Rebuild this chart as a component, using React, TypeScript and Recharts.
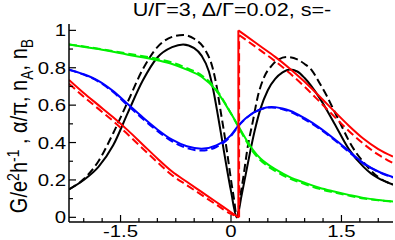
import { LineChart, Line, XAxis, YAxis } from "recharts";

// x positions (in units of Γ) and values
const blackSolidX = [-2.2, -2.0, -1.8, -1.6, -1.4, -1.2, -1.0, -0.8, -0.65, -0.5, -0.4, -0.3, -0.24, -0.18, -0.12, -0.06, 0.0, 0.08, 0.14, 0.2, 0.26, 0.32, 0.4, 0.5, 0.6, 0.7, 0.8, 0.9, 1.0, 1.2, 1.4, 1.6, 1.8, 1.9, 2.0, 2.2];
const blackSolidY = [0.15, 0.2, 0.27, 0.385, 0.56, 0.73, 0.855, 0.91, 0.925, 0.905, 0.865, 0.78, 0.68, 0.55, 0.41, 0.27, 0.14, 0.0, 0.11, 0.23, 0.35, 0.46, 0.58, 0.68, 0.74, 0.775, 0.79, 0.78, 0.745, 0.64, 0.505, 0.365, 0.27, 0.235, 0.21, 0.175];

const blackDashX = [-2.2, -2.0, -1.8, -1.6, -1.4, -1.2, -1.0, -0.8, -0.65, -0.5, -0.35, -0.25, -0.19, -0.15, -0.1, -0.05, 0.0, 0.04, 0.08, 0.12, 0.17, 0.22, 0.3, 0.36, 0.45, 0.55, 0.65, 0.76, 0.9, 1.0, 1.1, 1.2, 1.3, 1.4, 1.5, 1.6, 1.7, 1.8, 1.9, 2.0, 2.2];
const blackDashY = [0.15, 0.205, 0.3, 0.45, 0.62, 0.79, 0.91, 0.965, 0.975, 0.955, 0.895, 0.8, 0.69, 0.59, 0.47, 0.34, 0.2, 0.1, 0.0, 0.1, 0.22, 0.36, 0.52, 0.64, 0.75, 0.81, 0.845, 0.857, 0.845, 0.82, 0.785, 0.72, 0.65, 0.57, 0.49, 0.41, 0.345, 0.295, 0.25, 0.215, 0.175];

const greenX = [-2.2, -1.8, -1.4, -1.0, -0.8, -0.6, -0.4, -0.2, 0.0, 0.1, 0.2, 0.3, 0.4, 0.5, 0.6, 0.8, 1.0, 1.2, 1.4, 1.6, 1.8, 2.0, 2.2];
const greenSolidY = [0.925, 0.9, 0.87, 0.84, 0.82, 0.79, 0.752, 0.678, 0.555, 0.488, 0.42, 0.36, 0.315, 0.283, 0.258, 0.215, 0.185, 0.158, 0.138, 0.12, 0.104, 0.093, 0.085];
const greenDashY = [0.925, 0.902, 0.875, 0.847, 0.828, 0.798, 0.76, 0.684, 0.555, 0.484, 0.412, 0.35, 0.305, 0.273, 0.248, 0.207, 0.178, 0.152, 0.133, 0.116, 0.101, 0.091, 0.084];

const blueX = [-2.2, -2.0, -1.8, -1.6, -1.4, -1.2, -1.0, -0.8, -0.6, -0.4, -0.2, 0.0, 0.1, 0.2, 0.4, 0.55, 0.7, 0.8, 1.0, 1.2, 1.4, 1.6, 1.8, 2.0, 2.2];
const blueSolidY = [0.79, 0.765, 0.73, 0.675, 0.605, 0.535, 0.47, 0.415, 0.38, 0.367, 0.385, 0.44, 0.49, 0.53, 0.578, 0.59, 0.582, 0.57, 0.53, 0.48, 0.42, 0.355, 0.29, 0.245, 0.215];
const blueDashY = [0.79, 0.763, 0.726, 0.67, 0.598, 0.527, 0.462, 0.406, 0.37, 0.357, 0.376, 0.435, 0.488, 0.528, 0.577, 0.588, 0.578, 0.565, 0.524, 0.474, 0.415, 0.35, 0.287, 0.243, 0.213];

// red has a jump at x≈0.1, so it is split in left branch / jump / right branch
const redLeftX = [-2.2, -2.0, -1.8, -1.6, -1.4, -1.2, -1.0, -0.8, -0.6, -0.4, -0.2, 0.0, 0.1];
const redLeftSolidY = [0.735, 0.665, 0.6, 0.535, 0.465, 0.39, 0.315, 0.245, 0.19, 0.136, 0.082, 0.027, 0.0];
const redLeftDashX = [-2.2, -2.0, -1.8, -1.6, -1.4, -1.2, -1.0, -0.8, -0.6, -0.4, -0.2, 0.0, 0.11];
const redLeftDashY = [0.715, 0.645, 0.58, 0.515, 0.443, 0.368, 0.295, 0.225, 0.172, 0.12, 0.068, 0.018, 0.0];

const redJumpSolidX = [0.1, 0.1];
const redJumpSolidY = [0.0, 1.0];
const redJumpDashX = [0.11, 0.11];
const redJumpDashY = [0.0, 0.975];

const redRightSolidX = [0.1, 0.2, 0.4, 0.6, 0.8, 1.0, 1.2, 1.4, 1.6, 1.8, 2.0, 2.2];
const redRightSolidY = [1.0, 0.972, 0.915, 0.858, 0.795, 0.725, 0.648, 0.568, 0.49, 0.42, 0.365, 0.325];
const redRightDashX = [0.11, 0.2, 0.4, 0.6, 0.8, 1.0, 1.2, 1.4, 1.6, 1.8, 2.0, 2.2];
const redRightDashY = [0.975, 0.95, 0.893, 0.835, 0.77, 0.698, 0.62, 0.54, 0.462, 0.393, 0.335, 0.29];

const X_TICKS = [-2.0, -1.75, -1.5, -1.25, -1.0, -0.75, -0.5, -0.25, 0, 0.25, 0.5, 0.75, 1.0, 1.25, 1.5, 1.75, 2.0];
const X_LABELS = [-1.5, 0, 1.5];
const Y_TICKS = [0, 0.1, 0.2, 0.3, 0.4, 0.5, 0.6, 0.7, 0.8, 0.9, 1.0];
const Y_LABELS = [0, 0.2, 0.4, 0.6, 0.8, 1.0];

const FONT = "'Liberation Sans', Arial, Helvetica, sans-serif";
const FS = 17;
const STRETCH = 1.2; // the original lettering is wider than it is tall

const zip = (xs: number[], ys: number[]) => xs.map((x, i) => ({ x, y: ys[i] }));

const series = [
  { id: "bs", data: zip(blackSolidX, blackSolidY), color: "#000000", dash: false },
  { id: "bd", data: zip(blackDashX, blackDashY), color: "#000000", dash: true },
  { id: "gs", data: zip(greenX, greenSolidY), color: "#00f000", dash: false },
  { id: "gd", data: zip(greenX, greenDashY), color: "#00f000", dash: true },
  { id: "us", data: zip(blueX, blueSolidY), color: "#0000ff", dash: false },
  { id: "ud", data: zip(blueX, blueDashY), color: "#0000ff", dash: true },
  { id: "rls", data: zip(redLeftX, redLeftSolidY), color: "#ff0000", dash: false },
  { id: "rld", data: zip(redLeftDashX, redLeftDashY), color: "#ff0000", dash: true },
  { id: "rjs", data: zip(redJumpSolidX, redJumpSolidY), color: "#ff0000", dash: false, linear: true },
  { id: "rjd", data: zip(redJumpDashX, redJumpDashY), color: "#ff0000", dash: true, linear: true },
  { id: "rrs", data: zip(redRightSolidX, redRightSolidY), color: "#ff0000", dash: false },
  { id: "rrd", data: zip(redRightDashX, redRightDashY), color: "#ff0000", dash: true },
];

const fmt = (v: number) => String(v);

const Label = ({ x, y, anchor, size = FS, children }: any) => (
  <text
    transform={`translate(${x},${y}) scale(${STRETCH},1)`}
    textAnchor={anchor}
    fontSize={size}
    fontFamily={FONT}
    fill="#000"
  >
    {children}
  </text>
);

// ticks point inward, labels only on the major ones
const BottomTick = (props: any) => {
  const { x, y, payload } = props;
  const major = X_LABELS.includes(payload.value);
  return (
    <g>
      <line x1={x} y1={y} x2={x} y2={y - (major ? 7 : 4)} stroke="#000" strokeWidth={1.2} />
      {major && <Label x={x} y={y + 15} anchor="middle">{fmt(payload.value)}</Label>}
    </g>
  );
};

const TopTick = (props: any) => {
  const { x, y, payload } = props;
  const major = X_LABELS.includes(payload.value);
  return <line x1={x} y1={y} x2={x} y2={y + (major ? 7 : 4)} stroke="#000" strokeWidth={1.2} />;
};

const LeftTick = (props: any) => {
  const { x, y, payload } = props;
  const major = Y_LABELS.includes(payload.value);
  return (
    <g>
      <line x1={x} y1={y} x2={x + (major ? 7 : 4)} y2={y} stroke="#000" strokeWidth={1.2} />
      {major && <Label x={x - 3} y={y + 6} anchor="end">{fmt(payload.value)}</Label>}
    </g>
  );
};

const RightTick = (props: any) => {
  const { x, y, payload } = props;
  const major = Y_LABELS.includes(payload.value);
  return <line x1={x} y1={y} x2={x - (major ? 7 : 4)} y2={y} stroke="#000" strokeWidth={1.2} />;
};

const frame = { stroke: "#000", strokeWidth: 1.5 };

export default function App() {
  return (
    <div style={{ position: "absolute", left: 0, top: 0, width: 395, height: 240, background: "#fff" }}>
      <LineChart width={395} height={240} margin={{ top: 24, right: 2, bottom: 0, left: 9 }}>
        <XAxis
          xAxisId="b"
          type="number"
          dataKey="x"
          domain={[-2.2, 2.2]}
          allowDataOverflow
          ticks={X_TICKS}
          interval={0}
          tick={<BottomTick />}
          tickLine={false}
          tickSize={0}
          tickMargin={0}
          height={18}
          axisLine={frame}
        />
        <XAxis
          xAxisId="t"
          orientation="top"
          type="number"
          dataKey="x"
          domain={[-2.2, 2.2]}
          allowDataOverflow
          ticks={X_TICKS}
          interval={0}
          tick={<TopTick />}
          tickLine={false}
          tickSize={0}
          tickMargin={0}
          height={0}
          axisLine={frame}
        />
        <YAxis
          yAxisId="l"
          type="number"
          domain={[-0.025, 1.034]}
          allowDataOverflow
          ticks={Y_TICKS}
          interval={0}
          tick={<LeftTick />}
          tickLine={false}
          tickSize={0}
          tickMargin={0}
          width={60}
          axisLine={frame}
        />
        <YAxis
          yAxisId="r"
          orientation="right"
          type="number"
          domain={[-0.025, 1.034]}
          allowDataOverflow
          ticks={Y_TICKS}
          interval={0}
          tick={<RightTick />}
          tickLine={false}
          tickSize={0}
          tickMargin={0}
          width={0}
          axisLine={frame}
        />
        {series.map((s) => (
          <Line
            key={s.id}
            xAxisId="b"
            yAxisId="l"
            data={s.data}
            dataKey="y"
            type={s.linear ? "linear" : "monotone"}
            stroke={s.color}
            strokeWidth={2}
            strokeDasharray={s.dash ? "8 4" : undefined}
            dot={false}
            activeDot={false}
            isAnimationActive={false}
          />
        ))}
      </LineChart>
      <svg
        width={395}
        height={240}
        style={{ position: "absolute", left: 0, top: 0, pointerEvents: "none" }}
        fontFamily={FONT}
      >
        <Label x={232} y={16} anchor="middle" size={18}>U/Γ=3, Δ/Γ=0.02, s=-</Label>
        <text
          transform={`translate(27,126) scale(${STRETCH},1) rotate(-90)`}
          textAnchor="middle"
          fontSize={20}
        >
          G/e<tspan dy={-7} fontSize={14}>2</tspan>
          <tspan dy={7}>h</tspan>
          <tspan dy={-7} fontSize={14}>-1</tspan>
          <tspan dy={7}> , α/π, n</tspan>
          <tspan dy={5} fontSize={14}>A</tspan>
          <tspan dy={-5}>, n</tspan>
          <tspan dy={5} fontSize={14}>B</tspan>
        </text>
      </svg>
    </div>
  );
}
